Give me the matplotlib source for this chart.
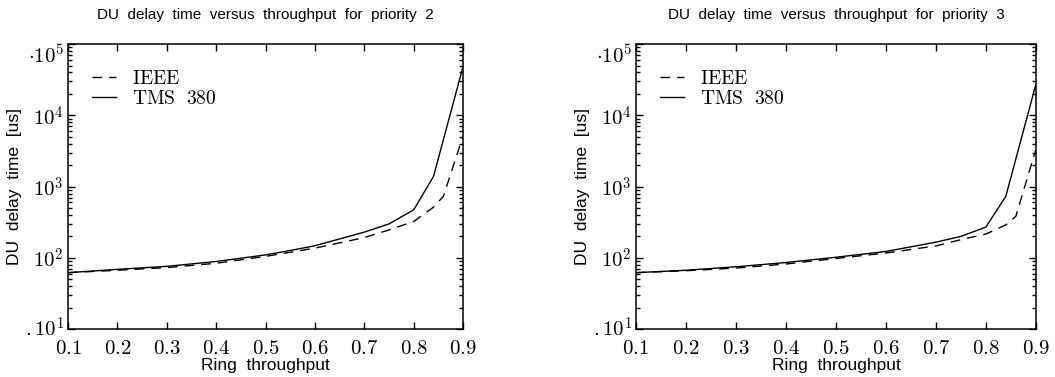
import matplotlib
matplotlib.use("Agg")
import matplotlib.pyplot as plt
import matplotlib.transforms as mtransforms
from matplotlib.ticker import FixedLocator, FixedFormatter, LogLocator, NullFormatter

plt.rcParams['mathtext.fontset'] = 'cm'
plt.rcParams['font.family'] = ['Liberation Sans', 'DejaVu Sans']

# priority 2
x_ieee_p2 = [0.1, 0.2, 0.3, 0.4, 0.5, 0.6, 0.7, 0.75, 0.8, 0.84, 0.86, 0.9]
ieee_p2 = [62, 67, 73, 84, 105, 137, 193, 247, 324, 515, 730, 5200]
x_tms_p2 = [0.1, 0.2, 0.3, 0.4, 0.5, 0.55, 0.6, 0.7, 0.75, 0.8, 0.84, 0.9]
tms_p2 = [62, 69, 76, 89, 110, 127, 148, 230, 300, 473, 1390, 49000]

# priority 3
x_ieee_p3 = [0.1, 0.2, 0.3, 0.4, 0.5, 0.6, 0.7, 0.75, 0.8, 0.84, 0.86, 0.9]
ieee_p3 = [62, 66, 72, 82, 98, 117, 147, 180, 216, 290, 383, 3300]
x_tms_p3 = [0.1, 0.2, 0.3, 0.4, 0.5, 0.6, 0.7, 0.75, 0.8, 0.84, 0.9]
tms_p3 = [62, 67, 75, 86, 102, 123, 166, 200, 270, 730, 27000]

x_ticks = [0.1, 0.2, 0.3, 0.4, 0.5, 0.6, 0.7, 0.8, 0.9]
y_ticks = [1e1, 1e2, 1e3, 1e4, 1e5]
y_tick_labels = [r'$.10^{1}$', r'$10^{2}$', r'$10^{3}$', r'$10^{4}$', r'$\cdot10^{5}$']

panels = [
    ("DU  delay  time  versus  throughput  for  priority  2", x_ieee_p2, ieee_p2, x_tms_p2, tms_p2),
    ("DU  delay  time  versus  throughput  for  priority  3", x_ieee_p3, ieee_p3, x_tms_p3, tms_p3),
]

fig = plt.figure(figsize=(10.55, 3.77), dpi=100)
positions = [[0.0645, 0.127, 0.3745, 0.756], [0.6028, 0.127, 0.379, 0.756]]

for pos, (title, xi, yi, xt, yt) in zip(positions, panels):
    ax = fig.add_axes(pos)
    ax.plot(xi, yi, color='black', linestyle=(0, (7, 5)), linewidth=1.0, label=r'$\mathrm{IEEE}$')
    ax.plot(xt, yt, color='black', linestyle='-', linewidth=1.0, label=r'$\mathrm{TMS\ \ 380}$')
    ax.set_yscale('log')
    ax.set_xlim(0.1, 0.9)
    ax.set_ylim(1e1, 1e5)
    ax.xaxis.set_major_locator(FixedLocator(x_ticks))
    ax.set_xticklabels([f'${v:.1f}$' for v in x_ticks])
    ax.yaxis.set_major_locator(FixedLocator(y_ticks))
    ax.yaxis.set_major_formatter(FixedFormatter(y_tick_labels))
    ax.yaxis.set_minor_locator(LogLocator(base=10, subs=range(2, 10)))
    ax.yaxis.set_minor_formatter(NullFormatter())
    ax.tick_params(which='both', direction='in', top=True, right=True, width=1.0)
    ax.tick_params(which='major', length=5, labelsize=15)
    ax.tick_params(axis='x', pad=7)
    ax.tick_params(axis='y', pad=3)
    ax.tick_params(which='minor', length=3)
    for sp in ax.spines.values():
        sp.set_linewidth(1.1)

    # nudge the end labels of the log axis like the original
    yt_ticks = ax.yaxis.get_major_ticks()
    yt_ticks[-1].label1.set_verticalalignment('top')
    lab0 = yt_ticks[0].label1
    lab0.set_transform(lab0.get_transform() +
                       mtransforms.ScaledTranslation(0, 2 / 100, fig.dpi_scale_trans))

    ax.set_title(title, fontsize=11, pad=18)
    ax.set_xlabel('Ring  throughput', fontsize=12.5, labelpad=0)
    ax.set_ylabel('DU  delay  time  [us]', fontsize=12.5, labelpad=2)
    ax.legend(loc='upper left', frameon=False, handlelength=1.25, handletextpad=0.8,
              borderaxespad=0, borderpad=0, labelspacing=0.1, fontsize=14,
              bbox_to_anchor=(0.06, 0.91))

fig.savefig('out.png', dpi=100)
